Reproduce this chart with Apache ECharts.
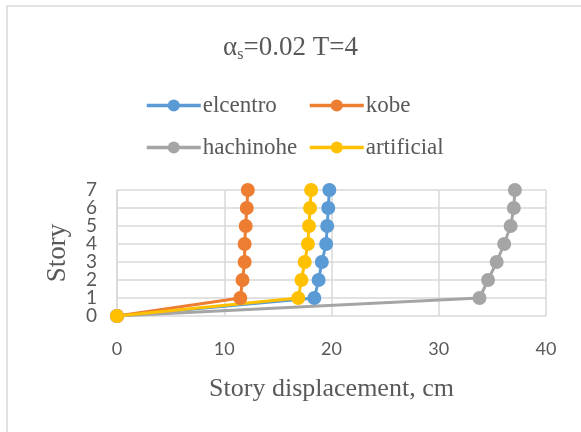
<!DOCTYPE html>
<html>
<head>
<meta charset="utf-8">
<script src="https://cdn.jsdelivr.net/npm/echarts@6/dist/echarts.min.js"></script>
<style>
  html, body { margin: 0; padding: 0; background: #fff; }
  #main { width: 581px; height: 432px; }
</style>
</head>
<body>
<div id="main"></div>
<script>
  // story levels
  var stories = [0, 1, 2, 3, 4, 5, 6, 7];
  // displacement per story, cm
  var elcentro = [0, 18.4, 18.8, 19.1, 19.5, 19.6, 19.7, 19.8];
  var kobe = [0, 11.5, 11.7, 11.9, 11.9, 12.0, 12.1, 12.2];
  var hachinohe = [0, 33.8, 34.6, 35.4, 36.1, 36.7, 37.0, 37.1];
  var artificial = [0, 16.9, 17.2, 17.5, 17.8, 17.9, 18.0, 18.1];

  var chartDom = document.getElementById('main');
  var myChart = echarts.init(chartDom);

  var serif = '"Liberation Serif", "Times New Roman", serif';
  var sans = 'Lato, "Noto Sans", sans-serif';

  function pairs(xs) {
    var out = [];
    xs.forEach(function(v, i) {
      out.push([v, stories[i]]);
    });
    return out;
  }

  function mkSeries(name, xs, color) {
    return {
      name: name,
      type: 'line',
      data: pairs(xs),
      symbol: 'circle',
      symbolSize: 14,
      clip: false,
      lineStyle: { color: color, width: 3 },
      itemStyle: { color: color }
    };
  }

  function mkLegend(name, left, top) {
    return {
      data: [name],
      left: left,
      top: top,
      itemWidth: 54,
      itemHeight: 15,
      itemGap: 0,
      lineStyle: { width: 3.5 },
      textStyle: { fontFamily: serif, fontSize: 23, color: '#595959', padding: [0, 0, 0, -3] }
    };
  }

  // labels are packed tightly, so split them over two stacked axes
  function yLabels(keepOdd) {
    return {
      margin: 20,
      showMinLabel: true,
      showMaxLabel: true,
      fontFamily: sans,
      fontSize: 19,
      color: '#595959',
      formatter: function(v) {
        return (v % 2 === 1) === keepOdd ? String(v) : '';
      }
    };
  }

  var option = {
    backgroundColor: '#fff',
    animation: false,
    title: {
      text: '{a|α}{s|s}{a|=0.02 T=4}',
      left: 'center',
      top: 28,
      textStyle: {
        fontWeight: 'normal',
        rich: {
          a: { fontFamily: serif, fontSize: 27, fontWeight: 'normal', color: '#595959' },
          s: { fontFamily: serif, fontSize: 16, fontWeight: 'normal', color: '#595959', verticalAlign: 'bottom', padding: [14, 0, 0, 0] }
        }
      }
    },
    legend: [
      mkLegend('elcentro', 140, 89),
      mkLegend('kobe', 303, 89),
      mkLegend('hachinohe', 140, 131),
      mkLegend('artificial', 303, 131)
    ],
    graphic: [{
      type: 'rect',
      shape: { x: 7, y: 6, width: 600, height: 450 },
      style: { fill: 'none', stroke: '#d9d9d9', lineWidth: 1.5 },
      silent: true
    }],
    grid: { left: 117, right: 35, top: 190, bottom: 116 },
    xAxis: {
      type: 'value',
      min: 0,
      max: 40,
      interval: 10,
      name: 'Story displacement, cm',
      nameLocation: 'middle',
      nameGap: 60,
      nameTextStyle: { fontFamily: serif, fontSize: 26, color: '#595959' },
      axisLine: { show: false },
      axisTick: { show: false },
      axisLabel: { fontFamily: sans, fontSize: 18, color: '#595959', margin: 24 },
      splitLine: { show: true, lineStyle: { color: '#d9d9d9', width: 1.5 } }
    },
    yAxis: [{
      type: 'value',
      position: 'left',
      min: 0,
      max: 7,
      interval: 1,
      name: 'Story',
      nameLocation: 'middle',
      nameGap: 46,
      nameTextStyle: { fontFamily: serif, fontSize: 27, color: '#595959' },
      axisLine: { show: true, lineStyle: { color: '#d9d9d9', width: 1.5 } },
      axisTick: { show: false },
      axisLabel: yLabels(false),
      splitLine: { show: true, lineStyle: { color: '#d9d9d9', width: 1.5 } }
    }, {
      type: 'value',
      position: 'left',
      offset: 0,
      min: 0,
      max: 7,
      interval: 1,
      axisLine: { show: false },
      axisTick: { show: false },
      axisLabel: yLabels(true),
      splitLine: { show: false }
    }],
    series: [
      mkSeries('elcentro', elcentro, '#5B9BD5'),
      mkSeries('kobe', kobe, '#ED7D31'),
      mkSeries('hachinohe', hachinohe, '#A5A5A5'),
      mkSeries('artificial', artificial, '#FFC000')
    ]
  };

  option && myChart.setOption(option, true);
</script>
</body>
</html>
